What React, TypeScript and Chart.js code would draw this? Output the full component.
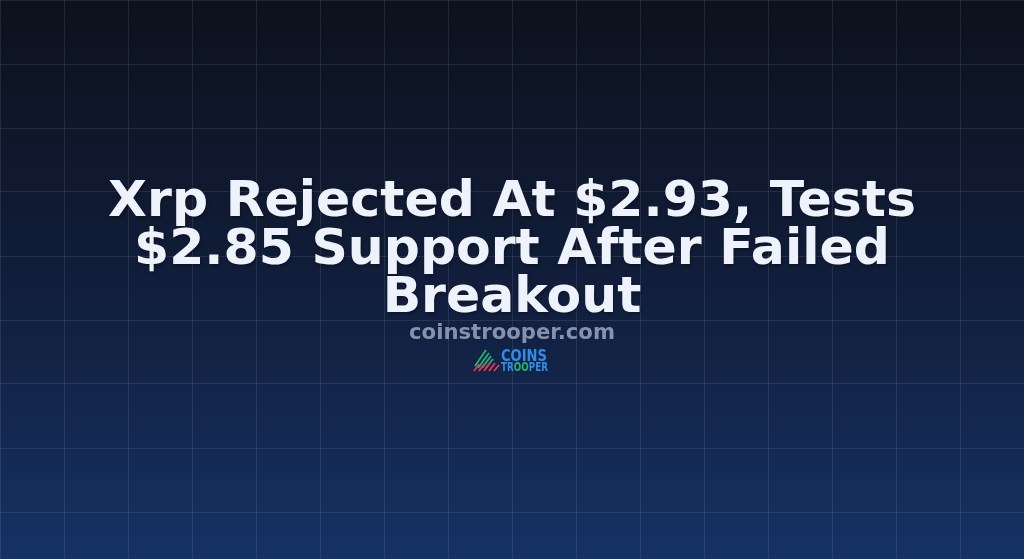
import { useEffect, useRef } from 'react';
import { Chart, registerables } from 'chart.js';

Chart.register(...registerables);

// title card content
const TITLE_LINES = ['Xrp Rejected At $2.93, Tests', '$2.85 Support After Failed', 'Breakout'];
const SITE = 'coinstrooper.com';
const LOGO_TOP = 'COINS';
const LOGO_BOTTOM = ['TR', 'OO', 'PER'];

// background grid (pixels, same units as the canvas)
const GRID_STEP = 64;
const X_RANGE = [0, 1024];
const Y_RANGE = [0, 559];

const FONT = '"DejaVu Sans", sans-serif';

// draw text squeezed to a target width (logo lettering is condensed)
function fitText(ctx: CanvasRenderingContext2D, text: string, x: number, y: number, w: number) {
  const natural = ctx.measureText(text).width;
  ctx.save();
  ctx.translate(x, y);
  ctx.scale(w / natural, 1);
  ctx.fillText(text, 0, 0);
  ctx.restore();
}

const cardPlugin = {
  id: 'card',
  beforeDraw(chart: Chart) {
    const { ctx, width, height } = chart;
    const g = ctx.createLinearGradient(0, 0, 0, height);
    g.addColorStop(0, '#0c111c');
    g.addColorStop(0.5, '#111d3a');
    g.addColorStop(1, '#153264');
    ctx.save();
    ctx.fillStyle = g;
    ctx.fillRect(0, 0, width, height);
    ctx.restore();
  },
  afterDraw(chart: Chart) {
    const { ctx, width } = chart;
    const cx = width / 2;
    ctx.save();
    ctx.textAlign = 'center';
    ctx.textBaseline = 'alphabetic';

    // title
    ctx.font = `bold 50.5px ${FONT}`;
    ctx.fillStyle = '#eef2fb';
    ctx.shadowColor = 'rgba(0, 0, 0, 0.3)';
    ctx.shadowBlur = 3;
    ctx.shadowOffsetX = 1;
    ctx.shadowOffsetY = 2;
    TITLE_LINES.forEach((line, i) => {
      ctx.fillText(line, cx, 216 + i * 48);
    });

    // site name
    ctx.shadowColor = 'transparent';
    ctx.font = `bold 21.2px ${FONT}`;
    ctx.fillStyle = '#8592ae';
    ctx.fillText(SITE, cx, 339);

    // logo icon: green / red stripes forming a peak
    ctx.lineWidth = 1.8;
    ctx.lineCap = 'butt';
    const greens = [[475, 366, 486, 350], [478, 368, 489, 353], [482, 368, 491, 356], [486, 368, 493, 359]];
    const reds = [[474, 371, 479, 364], [479, 371, 485, 363], [484, 371, 490, 363], [489, 371, 495, 363], [494, 371, 499, 365]];
    ctx.strokeStyle = '#22b573';
    greens.forEach(([x1, y1, x2, y2]) => {
      ctx.beginPath();
      ctx.moveTo(x1, y1);
      ctx.lineTo(x2, y2);
      ctx.stroke();
    });
    ctx.strokeStyle = '#e8364f';
    reds.forEach(([x1, y1, x2, y2]) => {
      ctx.beginPath();
      ctx.moveTo(x1, y1);
      ctx.lineTo(x2, y2);
      ctx.stroke();
    });

    // logo words
    ctx.textAlign = 'left';
    ctx.font = `bold 16px ${FONT}`;
    ctx.fillStyle = '#2f8de8';
    fitText(ctx, LOGO_TOP, 501, 361, 46);
    ctx.font = `bold 12px ${FONT}`;
    const total = ctx.measureText(LOGO_BOTTOM.join('')).width;
    const k = 47 / total;
    let x = 501;
    LOGO_BOTTOM.forEach((part, i) => {
      ctx.fillStyle = i === 1 ? '#22b573' : '#2f8de8';
      const w = ctx.measureText(part).width * k;
      fitText(ctx, part, x, 371, w);
      x += w;
    });
    ctx.restore();
  },
};

export default function App() {
  const canvasRef = useRef<HTMLCanvasElement>(null);

  useEffect(() => {
    if (!canvasRef.current) return;
    const gridColor = 'rgba(255, 255, 255, 0.09)';

    const chart = new Chart(canvasRef.current, {
      type: 'scatter',
      data: { datasets: [{ data: [] }] },
      options: {
        animation: false,
        responsive: true,
        maintainAspectRatio: false,
        layout: { padding: 0 },
        plugins: { legend: { display: false }, tooltip: { enabled: false } },
        scales: {
          x: {
            type: 'linear',
            min: X_RANGE[0],
            max: X_RANGE[1],
            ticks: { display: false, stepSize: GRID_STEP, includeBounds: false },
            grid: { color: gridColor, drawTicks: false },
            border: { display: false },
          },
          y: {
            type: 'linear',
            reverse: true,
            min: Y_RANGE[0],
            max: Y_RANGE[1],
            ticks: { display: false, stepSize: GRID_STEP, includeBounds: false },
            grid: { color: gridColor, drawTicks: false },
            border: { display: false },
          },
        },
      },
      plugins: [cardPlugin],
    });

    return () => chart.destroy();
  }, []);

  return (
    <div style={{ position: 'fixed', left: 0, top: 0, width: 1024, height: 559 }}>
      <canvas ref={canvasRef} />
    </div>
  );
}
